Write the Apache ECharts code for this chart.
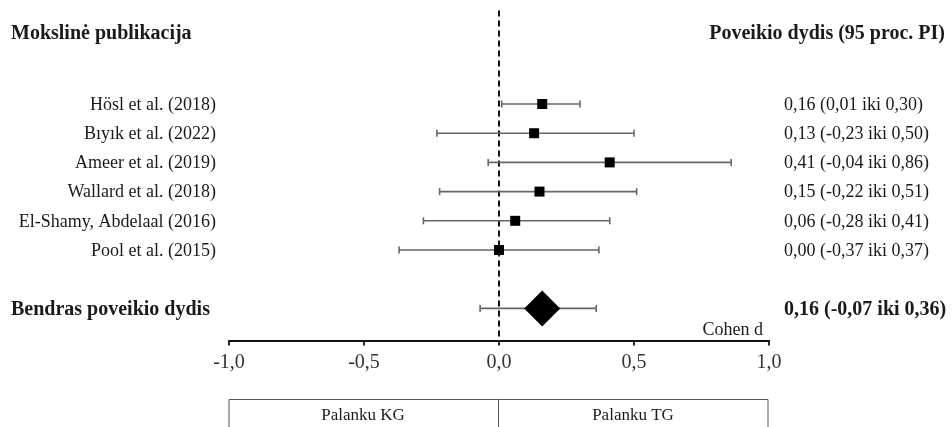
<!DOCTYPE html>
<html>
<head>
<meta charset="utf-8">
<script src="https://cdn.jsdelivr.net/npm/echarts@6/dist/echarts.min.js"></script>
<style>html,body{margin:0;padding:0;background:#fff}#c{width:952px;height:427px}</style>
</head>
<body>
<div id="c"></div>
<script>
var studies = ['Hösl et al. (2018)', 'Bıyık et al. (2022)', 'Ameer et al. (2019)', 'Wallard et al. (2018)', 'El-Shamy, Abdelaal (2016)', 'Pool et al. (2015)'];
var effect = [0.16, 0.13, 0.41, 0.15, 0.06, 0.00];
var lower = [0.01, -0.23, -0.04, -0.22, -0.28, -0.37];
var upper = [0.30, 0.50, 0.86, 0.51, 0.41, 0.37];
var ciText = ['0,16 (0,01 iki 0,30)', '0,13 (-0,23 iki 0,50)', '0,41 (-0,04 iki 0,86)', '0,15 (-0,22 iki 0,51)', '0,06 (-0,28 iki 0,41)', '0,00 (-0,37 iki 0,37)'];
var rows = [0, 1, 2, 3, 4, 5];
var pooledLabel = 'Bendras poveikio dydis';
var pooledEffect = 0.16, pooledLower = -0.07, pooledUpper = 0.36;
var pooledText = '0,16 (-0,07 iki 0,36)';
var pooledRow = 7;
var xTicks = [-1.0, -0.5, 0.0, 0.5, 1.0];

var FONT = '"Liberation Serif", "Times New Roman", serif';
var chart = echarts.init(document.getElementById('c'));

var whiskerData = rows.map(function (r, i) { return [lower[i], upper[i], r]; });
whiskerData.push([pooledLower, pooledUpper, pooledRow]);

function whisker(params, api) {
  var a = api.coord([api.value(0), api.value(2)]);
  var b = api.coord([api.value(1), api.value(2)]);
  var st = { stroke: '#666', lineWidth: 1.6 };
  return { type: 'group', children: [
    { type: 'line', shape: { x1: a[0], y1: a[1], x2: b[0], y2: b[1] }, style: st },
    { type: 'line', shape: { x1: a[0], y1: a[1] - 3.5, x2: a[0], y2: a[1] + 3.5 }, style: st },
    { type: 'line', shape: { x1: b[0], y1: b[1] - 3.5, x2: b[0], y2: b[1] + 3.5 }, style: st }
  ]};
}

var leftLabels = rows.map(function (r, i) { return [0, r, studies[i], 0]; });
leftLabels.push([0, pooledRow, pooledLabel, 1]);
var rightLabels = rows.map(function (r, i) { return [0, r, ciText[i], 0]; });
rightLabels.push([0, pooledRow, pooledText, 1]);

function makeText(side) {
  return function (params, api) {
    var y = api.coord([0, api.value(1)])[1];
    var bold = api.value(3) === 1;
    var txt = (side === 'left' ? leftLabels : rightLabels)[params.dataIndex][2];
    var x, align;
    if (side === 'left') { x = bold ? 11 : 216; align = bold ? 'left' : 'right'; }
    else { x = 784; align = 'left'; }
    return { type: 'text', x: x, y: y + 1, style: {
      text: txt, textAlign: align, textVerticalAlign: 'middle',
      font: (bold ? 'bold 20px ' : '18px ') + FONT, fill: '#1a1a1a' } };
  };
}

chart.setOption({
  animation: false,
  backgroundColor: '#fff',
  grid: { left: 229, right: 183, top: 10.6, bottom: 86.5 },
  xAxis: {
    type: 'value', min: -1, max: 1, interval: 0.5,
    axisLine: { onZero: false, lineStyle: { color: '#111', width: 1.8 } },
    axisTick: { length: 5, lineStyle: { color: '#111', width: 1.8 } },
    axisLabel: { margin: 12, fontFamily: FONT, fontSize: 20, color: '#333',
      formatter: function (v) { return v.toFixed(1).replace('.', ','); } },
    splitLine: { show: false }
  },
  yAxis: { type: 'value', inverse: true, min: -3.2, max: 8.1, show: false },
  graphic: [
    { type: 'text', left: 11, top: 24, style: { text: 'Mokslinė publikacija', font: 'bold 20px ' + FONT, fill: '#1a1a1a' } },
    { type: 'text', right: 7, top: 24, style: { text: 'Poveikio dydis (95 proc. PI)', font: 'bold 20px ' + FONT, fill: '#1a1a1a' } },
    { type: 'text', x: 763, y: 330, style: { text: 'Cohen d', textAlign: 'right', textVerticalAlign: 'middle', font: '18px ' + FONT, fill: '#1a1a1a' } },
    { type: 'rect', shape: { x: 229, y: 399.5, width: 539, height: 40 }, style: { fill: 'none', stroke: '#555', lineWidth: 1 } },
    { type: 'line', shape: { x1: 498.5, y1: 399.5, x2: 498.5, y2: 440 }, style: { stroke: '#555', lineWidth: 1 } },
    { type: 'text', x: 363, y: 416, style: { text: 'Palanku KG', textAlign: 'center', textVerticalAlign: 'middle', font: '17px ' + FONT, fill: '#1a1a1a' } },
    { type: 'text', x: 633, y: 416, style: { text: 'Palanku TG', textAlign: 'center', textVerticalAlign: 'middle', font: '17px ' + FONT, fill: '#1a1a1a' } }
  ],
  series: [
    { type: 'line', data: [[0, -3.2], [0, 8.1]], symbol: 'none', silent: true,
      lineStyle: { color: '#111', width: 2, type: [6, 4] }, z: 1 },
    { type: 'custom', renderItem: whisker, data: whiskerData, clip: false, z: 2 },
    { type: 'scatter', data: rows.map(function (r, i) { return [effect[i], r]; }),
      symbol: 'rect', symbolSize: 10, itemStyle: { color: '#000', opacity: 1 }, z: 3 },
    { type: 'scatter', data: [[pooledEffect, pooledRow]], symbol: 'diamond',
      symbolSize: [36, 36], itemStyle: { color: '#000', opacity: 1 }, z: 3 },
    { type: 'custom', renderItem: makeText('left'), data: leftLabels, clip: false, silent: true },
    { type: 'custom', renderItem: makeText('right'), data: rightLabels, clip: false, silent: true }
  ]
});
</script>
</body>
</html>
